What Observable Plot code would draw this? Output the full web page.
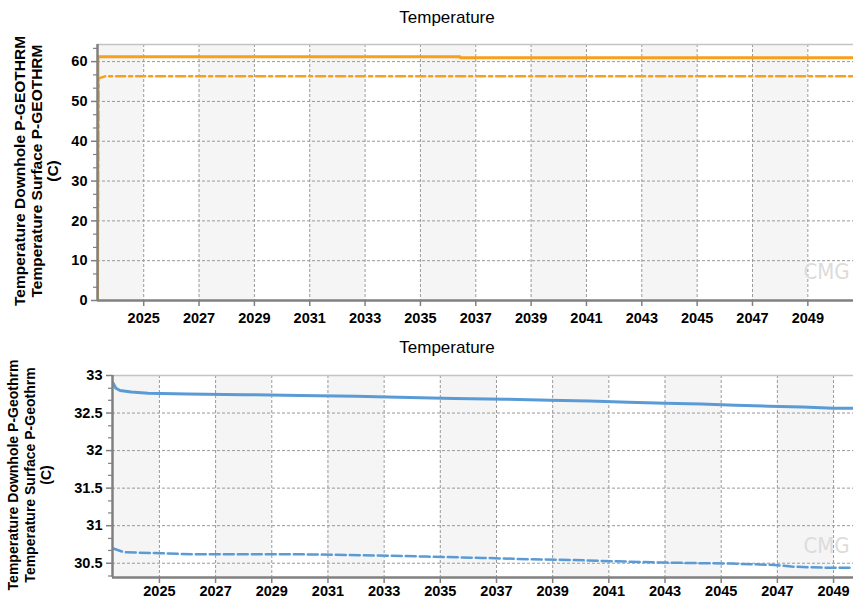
<!DOCTYPE html>
<html><head><meta charset="utf-8">
<script src="https://cdn.jsdelivr.net/npm/d3@7"></script>
<script src="https://cdn.jsdelivr.net/npm/@observablehq/plot@0.6"></script>
<style>
body{margin:0;background:#fff;font-family:"Liberation Sans",Arial,sans-serif;}
#wrap{position:relative;width:853px;height:599px;overflow:hidden;background:#fff;}
.title{position:absolute;left:0;width:894px;text-align:center;font-size:17px;color:#000;line-height:20px;}
.ylab{position:absolute;white-space:nowrap;text-align:center;font-weight:bold;font-size:15.5px;line-height:16.5px;color:#000;transform:translate(-50%,-50%) rotate(-90deg);}
.ylab.small{font-size:14px;line-height:16.5px;}
.panel{position:absolute;left:0;}
</style></head><body><div id="wrap"></div>
<script>
// ---- shared x-axis data (years) ----
const xTickYears = [2025, 2027, 2029, 2031, 2033, 2035, 2037, 2039, 2041, 2043, 2045, 2047, 2049];
const shadeBandStarts = [2023, 2027, 2031, 2035, 2039, 2043, 2047]; // each band covers two years
const topXDomain = [2023.33, 2050.65];
const bottomXDomain = [2023.33, 2049.71];

// ---- top panel ----
const topTitle = "Temperature";
const topYLabel = ["Temperature Downhole P-GEOTHRM", "Temperature Surface P-GEOTHRM", "(C)"];
const topYDomain = [0, 64.3];
const topYTicks = [0, 10, 20, 30, 40, 50, 60];
const topYMinorTicks = [3.33, 6.67, 13.33, 16.67, 23.33, 26.67, 33.33, 36.67, 43.33, 46.67, 53.33, 56.67, 63.33];
const topDownholeTime = [2023.33, 2023.345, 2036.43, 2036.45, 2050.65];
const topDownholeValue = [0, 61.2, 61.2, 60.95, 60.95];
const topSurfaceTime = [2023.33, 2023.37, 2023.6, 2050.65];
const topSurfaceValue = [0, 55.8, 56.3, 56.3];

// ---- bottom panel ----
const bottomTitle = "Temperature";
const bottomYLabel = ["Temperature Downhole P-Geothrm", "Temperature Surface P-Geothrm", "(C)"];
const bottomYDomain = [30.31, 33.0];
const bottomYTicks = [30.5, 31, 31.5, 32, 32.5, 33];
const bottomYMinorTicks = [30.33, 30.67, 30.83, 31.17, 31.33, 31.67, 31.83, 32.17, 32.33, 32.67, 32.83];
const bottomDownholeTime = [2023.33, 2023.45, 2023.6, 2024.0, 2024.6, 2026.0, 2028.0, 2030.0, 2032.0, 2033.5, 2035.5, 2037.3, 2038.9, 2040.3, 2041.7, 2043.0, 2044.3, 2045.5, 2046.7, 2047.9, 2049.0, 2049.71];
const bottomDownholeValue = [32.91, 32.83, 32.80, 32.78, 32.765, 32.755, 32.745, 32.735, 32.725, 32.71, 32.695, 32.685, 32.67, 32.66, 32.645, 32.63, 32.62, 32.605, 32.59, 32.58, 32.565, 32.565];
const bottomSurfaceTime = [2023.33, 2023.73, 2025.04, 2026.2, 2029.8, 2032.2, 2034.5, 2036.5, 2038.2, 2039.6, 2041.1, 2042.5, 2043.7, 2045.35, 2046.9, 2047.5, 2048.7, 2049.71];
const bottomSurfaceValue = [30.70, 30.647, 30.633, 30.62, 30.62, 30.607, 30.589, 30.571, 30.553, 30.544, 30.527, 30.513, 30.504, 30.495, 30.477, 30.455, 30.44, 30.44];

const watermark = "CMG";
const orange = "#f7a01d";
const blue = "#5b9bd5";

const zip = (t, v) => t.map((d, i) => ({t: d, v: v[i]}));
const bands = shadeBandStarts.map(s => ({x1: s, x2: s + 2}));

function panel({xDomain, yDomain, yTicks, yMinor, solid, dashed, color, dash, dashW, height, mt, mb, ml, wmDy, xPad}) {
  return Plot.plot({
    width: 853, height, marginLeft: ml, marginRight: 0, marginTop: mt, marginBottom: mb,
    style: {fontFamily: "'Liberation Sans', Arial, sans-serif", fontSize: "14.5px", fontWeight: "bold", color: "#000", background: "#fff"},
    x: {domain: xDomain, label: null},
    y: {domain: yDomain, label: null},
    marks: [
      Plot.rect(bands, {x1: "x1", x2: "x2", y1: () => yDomain[0], y2: () => yDomain[1], fill: "#f5f5f5", clip: true}),
      Plot.gridX(xTickYears, {stroke: "#999", strokeOpacity: 1, strokeDasharray: "3,2"}),
      Plot.gridY(yTicks, {stroke: "#999", strokeOpacity: 1, strokeDasharray: "3,2"}),
      Plot.ruleY([yDomain[1]], {stroke: "#c4c4c4", strokeWidth: 1.5}),
      Plot.text([watermark], {frameAnchor: "bottom-right", dx: -27, dy: wmDy, fill: "#dcdcdc", fontSize: 22, fontWeight: "normal", fontFamily: "'DejaVu Sans Condensed', sans-serif", textAnchor: "middle"}),
      Plot.line(zip(dashed.t, dashed.v), {x: "t", y: "v", stroke: color, strokeWidth: dashW, strokeDasharray: dash, clip: true}),
      Plot.line(zip(solid.t, solid.v), {x: "t", y: "v", stroke: color, strokeWidth: 3, clip: true}),
      Plot.axisX({ticks: xTickYears, tickFormat: d => String(d), tickSize: 6, tickPadding: xPad, stroke: "#808080", strokeWidth: 1.5, fill: "#000"}),
      Plot.axisY({ticks: yTicks, tickFormat: d => String(d), tickSize: 6, tickPadding: 4, stroke: "#808080", strokeWidth: 1.5, fill: "#000"}),
      Plot.axisY({ticks: yMinor, tickSize: 4, text: null, stroke: "#808080", strokeWidth: 1.2}),
      Plot.ruleX([xDomain[0]], {stroke: "#808080", strokeWidth: 2.5}),
      Plot.ruleY([yDomain[0]], {stroke: "#808080", strokeWidth: 2.5})
    ]
  });
}

const wrap = document.getElementById("wrap");
function addTitle(text, top) {
  const d = document.createElement("div"); d.className = "title"; d.style.top = top + "px"; d.textContent = text; wrap.appendChild(d);
}
function addYLabel(lines, cx, cy, cls) {
  const d = document.createElement("div"); d.className = "ylab" + (cls ? " " + cls : ""); d.style.left = cx + "px"; d.style.top = cy + "px";
  lines.forEach((l, i) => { if (i) d.appendChild(document.createElement("br")); d.appendChild(document.createTextNode(l)); });
  wrap.appendChild(d);
}

const p1 = panel({xDomain: topXDomain, yDomain: topYDomain, yTicks: topYTicks, yMinor: topYMinorTicks,
  solid: {t: topDownholeTime, v: topDownholeValue}, dashed: {t: topSurfaceTime, v: topSurfaceValue},
  color: orange, dash: "9,4,3,4", dashW: 2.5, height: 305, mt: 14, mb: 35, ml: 97, wmDy: -22, xPad: 6});
p1.classList.add("panel"); p1.style.top = "30px"; wrap.appendChild(p1);

const p2 = panel({xDomain: bottomXDomain, yDomain: bottomYDomain, yTicks: bottomYTicks, yMinor: bottomYMinorTicks,
  solid: {t: bottomDownholeTime, v: bottomDownholeValue}, dashed: {t: bottomSurfaceTime, v: bottomSurfaceValue},
  color: blue, dash: "10,4", dashW: 2.5, height: 239, mt: 15, mb: 22, ml: 112, wmDy: -25, xPad: 2});
p2.classList.add("panel"); p2.style.top = "360px"; wrap.appendChild(p2);

addTitle(topTitle, 8);
addTitle(bottomTitle, 338);
addYLabel(topYLabel, 37, 171);
addYLabel(bottomYLabel, 30, 475, "small");
</script></body></html>
